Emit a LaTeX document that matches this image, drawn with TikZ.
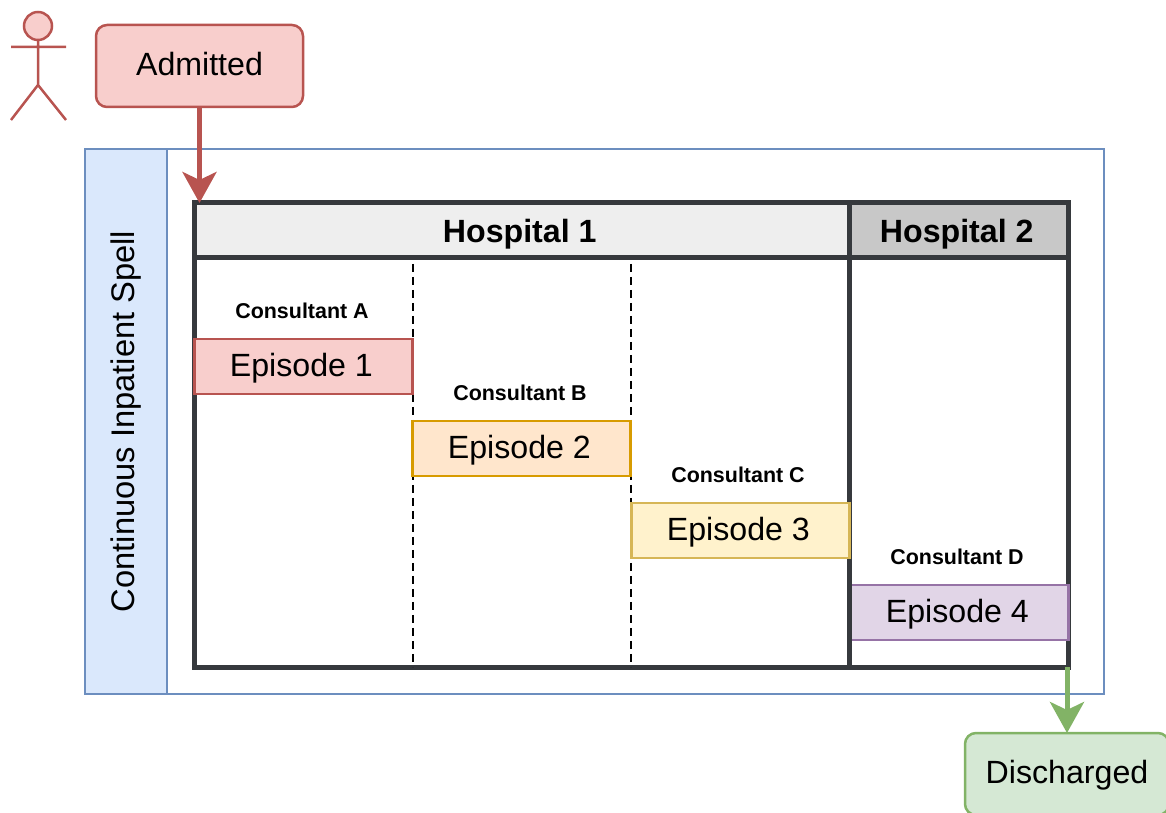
\documentclass[tikz,border=0pt]{standalone}
\usepackage{fontspec}
\setmainfont{Liberation Sans}
\usetikzlibrary{arrows.meta}
\definecolor{redfill}{HTML}{F8CECC}
\definecolor{redline}{HTML}{B85450}
\definecolor{bluefill}{HTML}{DAE8FC}
\definecolor{blueline}{HTML}{6C8EBF}
\definecolor{orangefill}{HTML}{FFE6CC}
\definecolor{orangeline}{HTML}{D79B00}
\definecolor{yellowfill}{HTML}{FFF2CC}
\definecolor{yellowline}{HTML}{D6B656}
\definecolor{purplefill}{HTML}{E1D5E7}
\definecolor{purpleline}{HTML}{9673A6}
\definecolor{greenfill}{HTML}{D5E8D4}
\definecolor{greenline}{HTML}{82B366}
\definecolor{wallline}{HTML}{36393D}
\def\pxu{0.02cm}
\tikzset{
  bigtext/.style={font=\fontsize{18.3}{21}\selectfont},
  state/.style 2 args={draw=#1,fill=#2,rounded corners=11*\pxu,line width=2.5*\pxu,
    minimum width=207*\pxu,minimum height=82*\pxu,outer sep=0pt,bigtext,
    text height=13.5pt,text depth=2.4pt},
  episode/.style 2 args={draw=#1,fill=#2,line width=2.5*\pxu,
    minimum width=218*\pxu,minimum height=55*\pxu,outer sep=0pt,bigtext,
    text height=14pt,text depth=2.3pt,execute at end node=\kern2.4pt},
  consultant/.style={font=\fontsize{12.2}{14}\selectfont\bfseries},
  header/.style 2 args={draw=wallline,fill=#2,line width=5*\pxu,minimum width=#1*\pxu,
    minimum height=55*\pxu,outer sep=0pt,font=\fontsize{18.3}{21}\selectfont\bfseries,
    text height=14.5pt,text depth=0.5pt,execute at end node=\kern2pt},
  flow/.style={line width=5*\pxu,-{Stealth[length=31*\pxu,width=34*\pxu,inset=8*\pxu]}},
}
\begin{document}
\begin{tikzpicture}[x=\pxu,y=-\pxu]
\clip (0,0) rectangle (1166,813);
% actor
\draw [redline,fill=redfill,line width=2.5*\pxu] (38,26) circle (14);
\draw [redline,line width=2.5*\pxu] (38,40) -- (38,85) (11,47) -- (66,47)
  (11,120) -- (38,85) -- (66,120);
\node [state={redline}{redfill}] (admitted) at (199.5,66) {Admitted};
% spell frame
\node [draw=blueline,line width=2.5*\pxu,minimum width=1019*\pxu,minimum height=545*\pxu,outer sep=0pt] (spell) at (594.5,421.5) {};
\node [draw=blueline,fill=bluefill,line width=2.5*\pxu,minimum width=545*\pxu,minimum height=82*\pxu,
  outer sep=0pt,rotate=90,font=\fontsize{18.6}{21}\selectfont] (spelltitle) at (126,421.5) {Continuous Inpatient Spell};
% hospitals
\node [draw=wallline,line width=5*\pxu,minimum width=874*\pxu,minimum height=464*\pxu,outer sep=0pt] (ward) at (631,435) {};
\node [header={655}{gray!13}] (hospitala) at (521.5,230.5) {Hospital 1};
\node [header={219}{gray!43}] (hospitalb) at (958.5,230.5) {Hospital 2};
% episodes
\node [episode={purpleline}{purplefill}] (epd) at (959.5,612.5) {Episode 4};
\draw [wallline,line width=5*\pxu] (hospitala.south east) -- (hospitala.south east |- ward.south);
\coordinate (splita) at (413,264);
\coordinate (splitb) at (631,264);
\foreach \s in {splita,splitb}
  \draw [dash pattern=on 8*\pxu off 5*\pxu,line width=2.5*\pxu] (\s) -- (\s |- ward.south);
\node [episode={redline}{redfill}] (epa) at (303.5,366.5) {Episode 1};
\node [episode={orangeline}{orangefill}] (epb) at (521.5,448.5) {Episode 2};
\node [episode={yellowline}{yellowfill}] (epc) at (740.5,530.5) {Episode 3};
\node [consultant] (cona) at (302,311) {Consultant A};
\node [consultant] (conb) at (520,393) {Consultant B};
\node [consultant] (conc) at (738,475) {Consultant C};
\node [consultant] (cond) at (957,557) {Consultant D};
% leaving
\node [state={greenline}{greenfill},minimum width=204*\pxu] (discharged) at (1067,774) {Discharged};
\coordinate (entry) at (admitted.south |- ward.north);
\coordinate (exit) at (discharged.north |- ward.south);
\draw [flow,redline] (admitted) -- (entry);
\draw [flow,greenline] (exit) -- (discharged);
\end{tikzpicture}
\end{document}
